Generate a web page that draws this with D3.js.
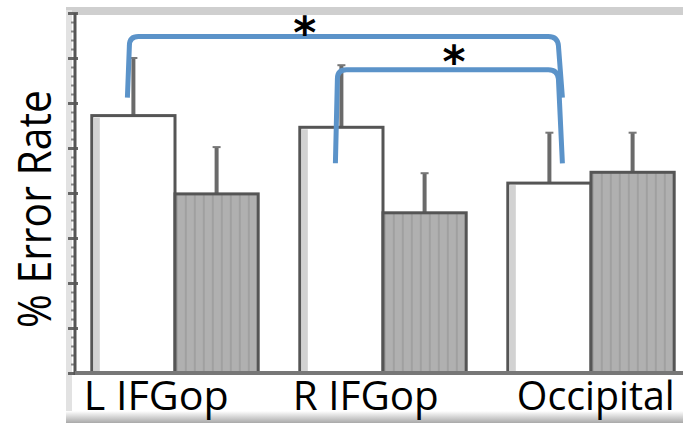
<!DOCTYPE html>
<html>
<head>
<meta charset="utf-8">
<script src="https://cdnjs.cloudflare.com/ajax/libs/d3/7.8.5/d3.min.js"></script>
<style>
  body { margin: 0; background: #fff; }
  svg { display: block; }
</style>
</head>
<body>
<div id="chart"></div>
<script>
// regions on the x axis
var categories = ["L IFGop", "R IFGop", "Occipital"];
var conditions = ["open", "shaded"];

// mean % error rate and upper error (SE) per region
var openRate = [28.6, 27.3, 21.1];
var openErr = [6.4, 6.9, 5.6];
var shadedRate = [19.9, 17.8, 22.3];
var shadedErr = [5.2, 4.4, 4.4];

// y axis ticks
var majorTicks = [0, 5, 10, 15, 20, 25, 30, 35, 40];
var minorTicks = d3.range(0, 41, 1);

// significance brackets (open bar of one region vs open bar of another)
var bracketFrom = [0, 1];
var bracketTo = [2, 2];
var bracketTop = [37.4, 33.7];
var bracketLegEnd = [30.6, 23.3];
var bracketLabel = ["*", "*"];

var width = 683, height = 423;

var svg = d3.select("#chart").append("svg")
  .attr("width", width)
  .attr("height", height);

var defs = svg.append("defs");
var stripes = defs.append("pattern")
  .attr("id", "stripes")
  .attr("patternUnits", "userSpaceOnUse")
  .attr("width", 9)
  .attr("height", 10);
stripes.append("rect")
  .attr("width", 9).attr("height", 10)
  .attr("fill", "#b0b0b0");
stripes.append("rect")
  .attr("x", 3).attr("width", 2).attr("height", 10)
  .attr("fill", "#a0a0a0");

var grad = defs.append("linearGradient")
  .attr("id", "bottomShade")
  .attr("x1", 0).attr("y1", 0).attr("x2", 0).attr("y2", 1);
grad.append("stop").attr("offset", "0%").attr("stop-color", "#fff");
grad.append("stop").attr("offset", "100%").attr("stop-color", "#a9a9a9");

var y = d3.scaleLinear().domain([0, 40]).range([373, 13]);

var x = d3.scaleBand()
  .domain(categories)
  .range([71, 695])
  .paddingInner(0.2)
  .paddingOuter(0.1);

var xSub = d3.scaleBand()
  .domain(conditions)
  .range([0, x.bandwidth()]);

// scanned-figure frame
svg.append("rect")
  .attr("x", 66).attr("y", 8)
  .attr("width", width - 66).attr("height", height - 8)
  .attr("fill", "#fff");
svg.append("rect")
  .attr("x", 66).attr("y", 7)
  .attr("width", width - 66).attr("height", 8)
  .attr("fill", "#cfcfcf");
svg.append("rect")
  .attr("x", 66).attr("y", 10)
  .attr("width", 6).attr("height", height - 10)
  .attr("fill", "#e2e2e2");
svg.append("rect")
  .attr("x", 66).attr("y", 411)
  .attr("width", width - 66).attr("height", 12)
  .attr("fill", "url(#bottomShade)");

// bars
var rows = categories.map(function(c, i) {
  return [
    { cat: c, cond: "open", value: openRate[i], err: openErr[i] },
    { cat: c, cond: "shaded", value: shadedRate[i], err: shadedErr[i] }
  ];
});

var groups = svg.selectAll("g.region")
  .data(rows)
  .enter().append("g")
  .attr("class", "region")
  .attr("transform", function(d) { return "translate(" + x(d[0].cat) + ",0)"; });

// error whiskers (upper only)
groups.selectAll("line.whisker")
  .data(function(d) { return d; })
  .enter().append("line")
  .attr("class", "whisker")
  .attr("x1", function(d) { return xSub(d.cond) + xSub.bandwidth() / 2; })
  .attr("x2", function(d) { return xSub(d.cond) + xSub.bandwidth() / 2; })
  .attr("y1", function(d) { return y(d.value); })
  .attr("y2", function(d) { return y(d.value + d.err); })
  .attr("stroke", "#6a6a6a")
  .attr("stroke-width", 4);

groups.selectAll("line.cap")
  .data(function(d) { return d; })
  .enter().append("line")
  .attr("class", "cap")
  .attr("x1", function(d) { return xSub(d.cond) + xSub.bandwidth() / 2 - 4; })
  .attr("x2", function(d) { return xSub(d.cond) + xSub.bandwidth() / 2 + 4; })
  .attr("y1", function(d) { return y(d.value + d.err); })
  .attr("y2", function(d) { return y(d.value + d.err); })
  .attr("stroke", "#777")
  .attr("stroke-width", 2);

groups.selectAll("rect.bar")
  .data(function(d) { return d; })
  .enter().append("rect")
  .attr("class", "bar")
  .attr("x", function(d) { return xSub(d.cond); })
  .attr("y", function(d) { return y(d.value); })
  .attr("width", xSub.bandwidth())
  .attr("height", function(d) { return y(0) - y(d.value); })
  .attr("fill", function(d) { return d.cond == "open" ? "#fff" : "url(#stripes)"; })
  .attr("stroke", "#555")
  .attr("stroke-width", 3);

// soft inner edge of the open bars, as in the scan
groups.selectAll("rect.edge")
  .data(function(d) { return d.filter(function(e) { return e.cond == "open"; }); })
  .enter().append("rect")
  .attr("class", "edge")
  .attr("x", function(d) { return xSub(d.cond) + 2; })
  .attr("y", function(d) { return y(d.value) + 2; })
  .attr("width", 6)
  .attr("height", function(d) { return y(0) - y(d.value) - 4; })
  .attr("fill", "#d2d2d2");

// axes
var axisG = svg.append("g").attr("transform", "translate(75,0)");
axisG.call(d3.axisLeft(y).tickValues(minorTicks).tickSize(4).tickFormat(""))
  .call(function(g) {
    g.select(".domain").remove();
    g.selectAll("line").attr("stroke", "#888").attr("stroke-width", 2);
  });
var axisMajor = svg.append("g").attr("transform", "translate(78,0)");
axisMajor.call(d3.axisLeft(y).tickValues(majorTicks).tickSize(10).tickFormat(""))
  .call(function(g) {
    g.select(".domain").remove();
    g.selectAll("line").attr("stroke", "#666").attr("stroke-width", 3);
  });
svg.append("line")
  .attr("x1", 75).attr("x2", 75)
  .attr("y1", y(40)).attr("y2", y(0) + 2)
  .attr("stroke", "#555").attr("stroke-width", 3);
svg.append("line")
  .attr("x1", 75).attr("x2", width)
  .attr("y1", y(0)).attr("y2", y(0))
  .attr("stroke", "#777").attr("stroke-width", 4);

// category labels
var labelNudge = [-8, -7, 9];
svg.selectAll("text.cat")
  .data(categories)
  .enter().append("text")
  .attr("class", "cat")
  .attr("x", function(d, i) { return x(d) + labelNudge[i]; })
  .attr("y", 410)
  .attr("font-family", "'Open Sans', sans-serif")
  .attr("font-size", 41)
  .attr("textLength", function(d, i) { return [145, 146, 158][i]; })
  .attr("lengthAdjust", "spacingAndGlyphs")
  .attr("fill", "#000")
  .text(function(d) { return d; });

// y axis title
svg.append("text")
  .attr("transform", "translate(51,209) rotate(-90)")
  .attr("text-anchor", "middle")
  .attr("font-family", "'Open Sans', sans-serif")
  .attr("font-size", 45)
  .attr("textLength", 238)
  .attr("lengthAdjust", "spacingAndGlyphs")
  .attr("fill", "#000")
  .text("% Error Rate");

// significance brackets
function openCenter(i) {
  return x(categories[i]) + xSub("open") + xSub.bandwidth() / 2;
}
var starAt = [0.41, 0.53];
var starLift = [13, 17];
var r = 9;
bracketFrom.forEach(function(f, k) {
  var x0 = openCenter(f) - 6,
    x0t = x0 + 2,
    x1t = openCenter(bracketTo[k]) + 8,
    x1 = x1t + 5,
    yt = y(bracketTop[k]),
    yb = y(bracketLegEnd[k]);
  var p = d3.path();
  p.moveTo(x0, yb);
  p.lineTo(x0t, yt + r);
  p.quadraticCurveTo(x0t, yt, x0t + r, yt);
  p.lineTo(x1t - r, yt);
  p.quadraticCurveTo(x1t, yt, x1t + 1, yt + r);
  p.lineTo(x1, yb);
  svg.append("path")
    .attr("d", p.toString())
    .attr("fill", "none")
    .attr("stroke", "#5b93c9")
    .attr("stroke-width", 5)
    .attr("stroke-linecap", "butt");
  // glyph centre sits about 0.55em above the baseline
  svg.append("text")
    .attr("x", x0t + (x1t - x0t) * starAt[k])
    .attr("y", yt - starLift[k] + 0.55 * 44)
    .attr("text-anchor", "middle")
    .attr("font-family", "'DejaVu Sans', sans-serif")
    .attr("font-weight", "bold")
    .attr("font-size", 44)
    .attr("fill", "#000")
    .text(bracketLabel[k]);
});
</script>
</body>
</html>
